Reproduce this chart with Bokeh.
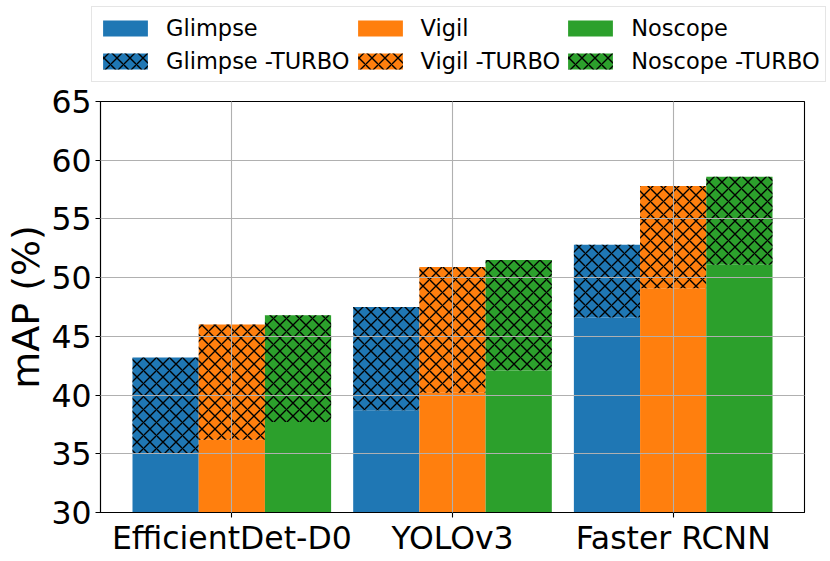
from bokeh.plotting import figure
from bokeh.layouts import column
from bokeh.models import Legend, LegendItem, FixedTicker, Range1d
from bokeh.embed import file_html
from bokeh.resources import INLINE

categories = ["EfficientDet-D0", "YOLOv3", "Faster RCNN"]
glimpse = [35.0, 38.7, 46.6]
glimpse_turbo = [43.2, 47.5, 52.8]
vigil = [36.2, 40.2, 49.1]
vigil_turbo = [46.0, 50.9, 57.8]
noscope = [37.7, 42.1, 51.1]
noscope_turbo = [46.8, 51.5, 58.6]
y_ticks = [30, 35, 40, 45, 50, 55, 60, 65]

FONT = "DejaVu Sans"
colors = ["#1f77b4", "#ff7f0e", "#2ca02c"]
names = ["Glimpse", "Vigil", "Noscope"]
bases = [glimpse, vigil, noscope]
turbos = [glimpse_turbo, vigil_turbo, noscope_turbo]
offsets = [-0.3, 0.0, 0.3]
width = 0.3
W = 826
TOP_H = 84
MAIN_H = 474
HATCH = dict(hatch_pattern="diagonal_cross", hatch_color="black", hatch_weight=1.4,
             hatch_scale=13)

# ---- legend strip (own figure above the chart) ----
lg = figure(width=W, height=TOP_H, output_backend="svg", toolbar_location=None,
            x_range=Range1d(0, 1), y_range=Range1d(0, 1),
            x_axis_type=None, y_axis_type=None,
            min_border_left=0, min_border_right=0, min_border_top=0, min_border_bottom=0)
lg.outline_line_color = None
lg.grid.visible = False

# ---- main chart ----
p = figure(width=W, height=MAIN_H, output_backend="svg", toolbar_location=None,
           x_range=Range1d(-0.595, 2.595), y_range=Range1d(30, 65),
           min_border_left=100, min_border_right=22, min_border_top=17,
           min_border_bottom=46)

for fig in (lg, p):
    try:
        fig.frame_align = False
    except Exception:
        pass

idx = list(range(len(categories)))
plain_items, turbo_items = [], []
for name, col, base, turbo, off in zip(names, colors, bases, turbos, offsets):
    xs = [i + off for i in idx]
    p.vbar(x=xs, width=width, bottom=0, top=base, fill_color=col, line_color=None)
    p.vbar(x=xs, width=width, bottom=base, top=turbo, fill_color=col, line_color=None, **HATCH)
    # zero-height proxies in the legend strip, used only for the legend swatches
    lb = lg.vbar(x=[0.5], width=0.1, bottom=0, top=0, fill_color=col, line_color=None)
    lt = lg.vbar(x=[0.5], width=0.1, bottom=0, top=0, fill_color=col, line_color=None, **HATCH)
    plain_items.append(LegendItem(label=name, renderers=[lb]))
    turbo_items.append(LegendItem(label=name + " -TURBO", renderers=[lt]))

p.xaxis.ticker = FixedTicker(ticks=idx)
p.xaxis.major_label_overrides = {i: c for i, c in zip(idx, categories)}
p.yaxis.ticker = FixedTicker(ticks=y_ticks)
p.yaxis.axis_label = "mAP (%)"

for ax in (p.xaxis[0], p.yaxis[0]):
    ax.major_label_text_font = FONT
    ax.major_label_text_font_size = "31.5px"
    ax.major_label_text_color = "black"
    ax.axis_line_color = "black"
    ax.axis_line_width = 1.1
    ax.major_tick_line_color = "black"
    ax.major_tick_line_width = 1.1
    ax.major_tick_out = 5
    ax.major_tick_in = 0
    ax.minor_tick_out = 0
    ax.minor_tick_in = 0
p.yaxis.major_label_standoff = 4
p.yaxis.axis_label_text_font = FONT
p.yaxis.axis_label_text_font_size = "38px"
p.yaxis.axis_label_text_font_style = "normal"
p.yaxis.axis_label_text_color = "black"
p.yaxis.axis_label_standoff = 0
p.xaxis.major_label_standoff = 2

p.outline_line_color = "black"
p.outline_line_width = 1.1
p.outline_line_alpha = 1.0

for g in (p.xgrid[0], p.ygrid[0]):
    g.grid_line_color = "#b0b0b0"
    g.grid_line_width = 1.1
    g.level = "overlay"

legend = Legend(items=plain_items + turbo_items, orientation="horizontal", ncols=3,
                label_text_font=FONT, label_text_font_size="22.5px",
                label_text_color="black",
                glyph_width=56, glyph_height=20, label_standoff=13,
                label_height=31, spacing=2, padding=5, margin=0,
                border_line_color="#cccccc", border_line_width=1,
                background_fill_alpha=0.8, location=(91, 2))
lg.add_layout(legend, "center")

layout = column(lg, p, spacing=0)
open("out.html", "w").write(file_html(layout, INLINE))
